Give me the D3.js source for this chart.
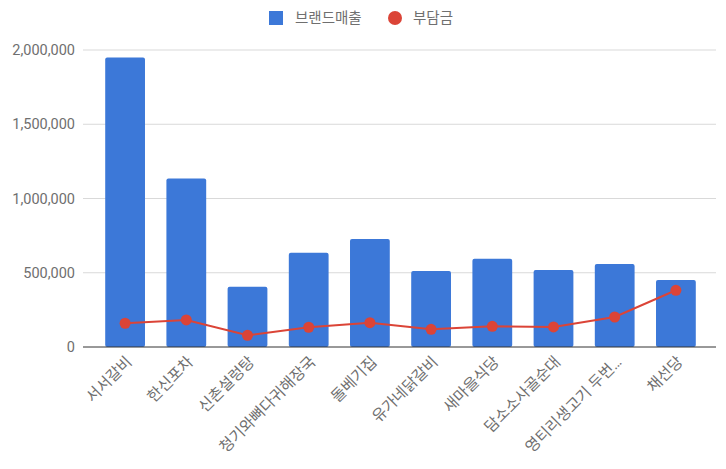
<!DOCTYPE html>
<html>
<head>
<meta charset="utf-8">
<script src="https://d3js.org/d3.v7.min.js"></script>
<style>
  body { margin: 0; background: #fff; }
  text { font-family: Roboto, "Noto Sans CJK KR", sans-serif; }
</style>
</head>
<body>
<svg id="chart"></svg>
<script>
var Width = 726, Height = 469;

var stores = ["서서갈비", "한신포차", "신촌설렁탕", "청기와뼈다귀해장국", "돌베기집",
              "유가네닭갈비", "새마을식당", "담소소사골순대", "영티리생고기 두번…", "채선당"];
var sales = [1950000, 1135000, 406000, 635000, 727000, 512000, 595000, 518000, 559000, 451000];
var burden = [160000, 182000, 79000, 133000, 164000, 119000, 139000, 135000, 202000, 382000];
var yTicks = [0, 500000, 1000000, 1500000, 2000000];

var seriesNames = ["브랜드매출", "부담금"];
var barColor = "#3c78d8", lineColor = "#db4437", textColor = "#6f6f6f";

var svg = d3.select("#chart").attr("width", Width).attr("height", Height);

var x = d3.scaleBand()
    .domain(stores)
    .range([94.5, 706.5])
    .paddingInner(0.35)
    .paddingOuter(0.175);

var y = d3.scaleLinear()
    .domain([0, 2000000])
    .range([347, 50]);

// gridlines
svg.append("g")
    .selectAll("line")
    .data(yTicks.slice(1))
    .enter()
    .append("line")
        .attr("x1", 83).attr("x2", 716)
        .attr("y1", function(d){ return y(d) })
        .attr("y2", function(d){ return y(d) })
        .attr("stroke", "#d9d9d9")
        .attr("stroke-width", 1);

// y axis labels
var yAxis = svg.append("g")
    .attr("transform", "translate(83,0)")
    .call(d3.axisLeft(y).tickValues(yTicks).tickSize(0).tickPadding(8)
        .tickFormat(d3.format(",")));
yAxis.select(".domain").remove();
yAxis.selectAll("text")
    .attr("font-size", 14.5)
    .attr("fill", textColor)
    .style("font-family", "Roboto, sans-serif");

// bars
svg.append("g")
    .selectAll("rect")
    .data(sales)
    .enter()
    .append("rect")
        .attr("x", function(d, i){ return x(stores[i]) })
        .attr("y", function(d){ return y(d) })
        .attr("width", x.bandwidth())
        .attr("height", function(d){ return y(0) - y(d) })
        .attr("rx", 2)
        .attr("fill", barColor);

// baseline
svg.append("line")
    .attr("x1", 83).attr("x2", 716)
    .attr("y1", y(0)).attr("y2", y(0))
    .attr("stroke", "#333")
    .attr("stroke-width", 1);

// line series
var cx = function(i){ return x(stores[i]) + x.bandwidth() / 2 };
var line = d3.line()
    .x(function(d, i){ return cx(i) })
    .y(function(d){ return y(d) });

svg.append("path")
    .datum(burden)
    .attr("d", line)
    .attr("fill", "none")
    .attr("stroke", lineColor)
    .attr("stroke-width", 2);

svg.append("g")
    .selectAll("circle")
    .data(burden)
    .enter()
    .append("circle")
        .attr("cx", function(d, i){ return cx(i) })
        .attr("cy", function(d){ return y(d) })
        .attr("r", 5.5)
        .attr("fill", lineColor);

// x labels
svg.append("g")
    .selectAll("text")
    .data(stores)
    .enter()
    .append("text")
        .attr("transform", function(d, i){
            return "translate(" + (cx(i) + 4) + ",359) rotate(-45)";
        })
        .attr("text-anchor", "end")
        .attr("dy", "0.35em")
        .attr("font-size", 15.5)
        .attr("fill", textColor)
        .text(function(d){ return d });

// legend
var legend = svg.append("g");
legend.append("rect")
    .attr("x", 269).attr("y", 11).attr("width", 14).attr("height", 14)
    .attr("fill", barColor);
legend.append("text")
    .attr("x", 295).attr("y", 18).attr("dy", "0.35em")
    .attr("font-size", 14.5).attr("fill", textColor)
    .text(seriesNames[0]);
legend.append("circle")
    .attr("cx", 395).attr("cy", 18).attr("r", 7)
    .attr("fill", lineColor);
legend.append("text")
    .attr("x", 413).attr("y", 18).attr("dy", "0.35em")
    .attr("font-size", 14.5).attr("fill", textColor)
    .text(seriesNames[1]);
</script>
</body>
</html>
